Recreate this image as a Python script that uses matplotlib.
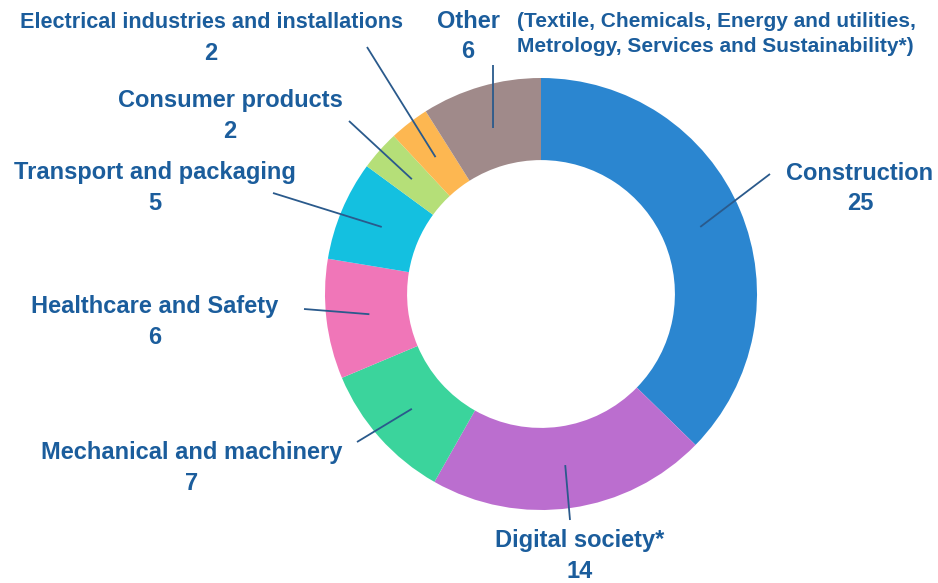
import matplotlib.pyplot as plt
import numpy as np

plt.rcParams['font.family'] = ['Liberation Sans', 'DejaVu Sans']

# data, clockwise from 12 o'clock
sectors = ["Construction", "Digital society*", "Mechanical and machinery",
           "Healthcare and Safety", "Transport and packaging", "Consumer products",
           "Electrical industries and installations", "Other"]
counts = [25, 14, 7, 6, 5, 2, 2, 6]
colors = ["#2b86d0", "#bb6ecf", "#3bd49c", "#f076b8", "#14c0e0", "#b5df78",
          "#fdb751", "#a08a8a"]
other_note = "(Textile, Chemicals, Energy and utilities,\nMetrology, Services and Sustainability*)"

# layout in pixels: label centre (x, y of name line), leader start, font size
label_pos = [(860, 173), (580, 540), (192, 453), (155, 307),
             (155, 173), (230, 101), (211, 22), (468, 21)]
leader_start = [(770, 174), (570, 520), (357, 442), (304, 309),
                (273, 193), (349, 121), (367, 47), (493, 65)]
label_size = [17, 17, 17, 17, 17, 17, 15.6, 17]

W, H = 938, 583
cx, cy, R = 541, 294, 216
txt_col = "#1b5d9c"
line_col = "#2a5a8c"


def d(px, py):
    return (px - cx) / R, (cy - py) / R


fig = plt.figure(figsize=(W / 100, H / 100), dpi=100)
ax = fig.add_axes([0, 0, 1, 1])

wedges, _ = ax.pie(counts, colors=colors, startangle=90, counterclock=False,
                   radius=1, wedgeprops=dict(width=0.38, linewidth=0))
ax.set_xlim(-cx / R, (W - cx) / R)
ax.set_ylim(-(H - cy) / R, cy / R)
ax.set_aspect('equal')
ax.axis('off')

for w, name, n, (lx, ly), (sx, sy), fs in zip(wedges, sectors, counts, label_pos,
                                              leader_start, label_size):
    ang = np.deg2rad((w.theta1 + w.theta2) / 2)
    ex, ey = 0.8 * np.cos(ang), 0.8 * np.sin(ang)
    x0, y0 = d(sx, sy)
    ax.plot([x0, ex], [y0, ey], color=line_col, lw=1.3, solid_capstyle='butt')
    tx, ty = d(lx, ly)
    ax.text(tx, ty, name, ha='center', va='center', fontsize=fs,
            fontweight='bold', color=txt_col)
    tx, ty = d(lx, ly + 31)
    ax.text(tx, ty, str(n), ha='center', va='center', fontsize=17,
            fontweight='bold', color=txt_col)

nx, ny = d(517, 34)
ax.text(nx, ny, other_note, ha='left', va='center', fontsize=15,
        fontweight='bold', color=txt_col, linespacing=1.35)

fig.savefig("out.png", dpi=100)
